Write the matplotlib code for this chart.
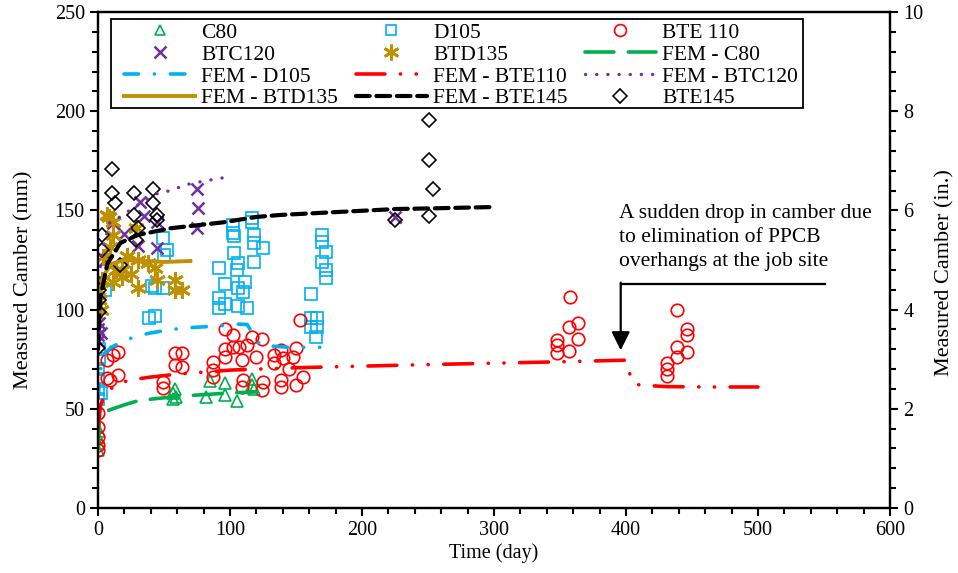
import matplotlib
matplotlib.use('Agg')
import matplotlib.pyplot as plt
from matplotlib.patches import Rectangle
from matplotlib.ticker import MultipleLocator

plt.rcParams['font.family'] = ['Liberation Serif', 'DejaVu Serif']
plt.rcParams['mathtext.fontset'] = 'stix'

# measured camber (mm) vs time (day)
c80_t = [0, 0, 0, 1, 57, 57, 58, 59, 82, 85, 96, 96, 105, 117, 117, 118]
c80_y = [29, 33, 36, 39, 58, 55, 60, 56, 56, 64, 63, 57, 54, 62, 65, 60]

d105_t = [0, 0, 0, 0, 1, 1, 2, 5, 39, 43, 43, 49, 50, 41, 52, 49,
          117, 117, 102, 102, 103, 118, 118, 125, 103, 118, 106, 92, 105, 96, 111,
          106, 110, 92, 96, 106, 113, 92,
          170, 170, 173, 170, 173, 173, 161, 161, 166, 161, 166, 165]
d105_y = [55, 60, 65, 70, 75, 80, 58, 110, 96, 97, 111, 111, 127.5, 112, 130, 136,
          146, 144, 142.6, 138.6, 137, 137.6, 133.6, 131, 128.5, 124, 123.5, 121, 120, 113, 114,
          111, 109, 106, 103, 102, 101, 100.7,
          137.6, 134, 129, 124, 120, 116, 108, 96, 96, 91, 91, 86]

bte110_t = [0, 0, 0, 0, 0, 7, 9, 15, 7, 11, 15,
            58, 64, 58, 64, 49, 49,
            87, 87, 87, 96, 102, 96, 96, 102, 107, 113, 117, 124, 120, 109, 110, 109,
            125, 124, 133, 133, 139, 140, 139, 139, 148, 153, 150, 145, 155, 150,
            357.6, 364, 357, 364, 348, 348, 348, 357,
            439, 446, 446, 439, 446, 439, 431, 431, 431]
bte110_y = [29, 32, 36, 41, 48, 65.5, 64.5, 67, 74.5, 77, 78.6,
            78, 78, 72, 71, 63.5, 60.5,
            73.6, 69.5, 66, 90, 87, 80, 76, 81, 81, 82, 86, 85, 76, 74.6, 64.5, 61,
            63.5, 59.5, 77, 73, 79.6, 75.6, 64.5, 61, 76, 95, 80.6, 70, 66, 62,
            106.5, 93, 91, 85, 84.7, 82, 78, 79,
            100, 90, 87, 81, 78.6, 76, 73, 70, 66.5]

btc120_t = [0, 0, 0, 1, 2, 5, 11, 20, 32, 35, 45, 45, 30, 75, 76, 75, 225]
btc120_y = [84, 87, 90, 93, 88, 125, 143.6, 138, 154, 147, 144, 131, 132, 161, 151, 141, 146.7]

btd135_t = [0, 0, 1, 2, 3, 8, 7, 11, 11, 9, 4, 29, 30, 38, 43, 18, 11, 30,
            58, 64, 58, 18, 22, 14, 25, 45]
btd135_y = [110, 113, 105, 100, 115, 146.7, 147.7, 144, 137.6, 131.5, 126.5, 141, 125, 123.5,
            121, 116.5, 114, 111, 115, 110, 110, 120, 127, 120, 118, 115]

bte145_t = [0, 1, 1, 1, 3, 3, 10.6, 10.6, 13, 27, 42, 42, 27, 45, 30, 45, 17, 29,
            225, 251, 251, 254, 251]
bte145_y = [80.6, 99, 105, 110, 130, 137.6, 171, 159, 153.6, 158.6, 161, 153.6, 147.7, 147.7,
            141, 145, 122.5, 135, 145, 195.6, 175.4, 161, 147]

# FEM predictions
fem_c80_t = [0, 1, 3, 9, 20, 30, 42, 64, 77, 100, 120]
fem_c80_y = [30, 45, 48, 49.5, 52, 54, 55, 56.5, 57, 58, 58.5]

fem_d105_t = [0, 2, 4, 10, 22, 38, 55, 72, 90, 106, 113, 118, 123, 145, 168]
fem_d105_y = [55, 70, 77, 81, 85, 88, 90, 91, 91.7, 92.7, 92.5, 87, 82, 81, 81]

fem_bte110_t = [0, 2, 5, 13, 24, 40, 60, 80, 100, 150, 200, 250, 300, 350, 399, 401, 404,
                410, 430, 460, 500]
fem_bte110_y = [40, 52, 57, 62, 64.5, 66, 67.5, 68.5, 69.5, 70.7, 71.5, 72.3, 73, 73.7, 74.5,
                73.5, 64, 62, 61.2, 61, 61]

fem_btc120_t = [0, 1, 3, 9, 15, 24, 33, 45, 55, 67, 82, 100]
fem_btc120_y = [88, 115, 130, 144, 146, 150, 154, 158.5, 160, 163, 165, 167]

fem_btd135_t = [0, 2, 5, 10, 20, 35, 50, 70]
fem_btd135_y = [95, 110, 118, 123, 125, 124.5, 124, 124.5]

fem_bte145_t = [0, 1.5, 7, 17, 30, 55, 95, 120, 138, 176, 226, 251, 300]
fem_bte145_y = [80, 105, 123, 133.6, 137.6, 141, 144, 146.7, 147.7, 149, 150.7, 151, 151.7]

green = '#00B050'
blue = '#00B0F0'
red = '#FF0000'
purple = '#7030A0'
gold = '#BF9000'

fig = plt.figure(figsize=(9.58, 5.73), dpi=100)
ax = fig.add_axes([0.1023, 0.1134, 0.8267, 0.8657])

ms = 8
h_c80, = ax.plot(c80_t, c80_y, ls='none', marker='^', ms=ms, mfc='none', mec=green, mew=1.2, label='C80')
h_d105, = ax.plot(d105_t, d105_y, ls='none', marker='s', ms=ms, mfc='none', mec=blue, mew=1.2, label='D105')
h_bte110, = ax.plot(bte110_t, bte110_y, ls='none', marker='o', ms=ms + 1, mfc='none', mec=red, mew=1.2, label='BTE 110')
h_btc120, = ax.plot(btc120_t, btc120_y, ls='none', marker='x', ms=ms + 1, mec=purple, mew=1.8, label='BTC120')
h_btd135, = ax.plot(btd135_t, btd135_y, ls='none', marker=(6, 2, 0), ms=ms + 4, mec=gold, mew=2.0, label='BTD135')
h_bte145, = ax.plot(bte145_t, bte145_y, ls='none', marker='D', ms=ms - 1, mfc='none', mec='k', mew=1.2, label='BTE145')

lw = 2.6
h_fc80, = ax.plot(fem_c80_t, fem_c80_y, color=green, lw=lw, dashes=(8, 4), dash_capstyle='round',
                  label='FEM - C80')
h_fd105, = ax.plot(fem_d105_t, fem_d105_y, color=blue, lw=lw, dashes=(4, 4.4, 0.05, 4.4),
                   dash_capstyle='round', label='FEM - D105')
h_fbte110, = ax.plot(fem_bte110_t, fem_bte110_y, color=red, lw=lw,
                     dashes=(8, 4.3, 0.05, 4.3, 0.05, 4.3), dash_capstyle='round', label='FEM - BTE110')
h_fbtc120, = ax.plot(fem_btc120_t, fem_btc120_y, color=purple, lw=2.4, dashes=(0.05, 3.3),
                     dash_capstyle='round', label='FEM - BTC120')
h_fbtd135, = ax.plot(fem_btd135_t, fem_btd135_y, color=gold, lw=2.8, label='FEM - BTD135')
h_fbte145, = ax.plot(fem_bte145_t, fem_bte145_y, color='k', lw=3, dashes=(3.3, 1.6),
                     dash_capstyle='round', label='FEM - BTE145')

ax.set_xlim(0, 600)
ax.set_ylim(0, 250)
ax.xaxis.set_major_locator(MultipleLocator(100))
ax.xaxis.set_minor_locator(MultipleLocator(20))
ax.yaxis.set_major_locator(MultipleLocator(50))
ax.yaxis.set_minor_locator(MultipleLocator(10))
ax.tick_params(which='both', direction='out', width=1.5, labelsize=14.5, top=False, right=False)
ax.tick_params(which='major', length=6)
ax.tick_params(which='minor', length=4)
for s in ax.spines.values():
    s.set_linewidth(1.6)
ax.set_xlabel('Time (day)', fontsize=14.5, labelpad=2)
ax.set_ylabel('Measured Camber (mm)', fontsize=16)
ax.yaxis.set_label_coords(-0.081, 0.46)

ax2 = ax.twinx()
ax2.set_ylim(0, 10)
ax2.yaxis.set_major_locator(MultipleLocator(2))
ax2.yaxis.set_minor_locator(MultipleLocator(0.4))
ax2.tick_params(which='both', direction='out', width=1.5, labelsize=14.5)
ax2.tick_params(which='major', length=6)
ax2.tick_params(which='minor', length=4)
ax2.set_ylabel('Measured Camber (in.)', fontsize=16)
ax2.yaxis.set_label_coords(1.057, 0.475)
for s in ax2.spines.values():
    s.set_linewidth(1.6)

# annotation for the drop at the job site
ax.text(395, 136.5, 'A sudden drop in camber due\nto elimination of PPCB\noverhangs at the job site',
        fontsize=15.5, ha='left', va='center', linespacing=1.35)
ax.plot([551, 396], [113, 113], color='k', lw=1.6)
ax.annotate('', xy=(396, 79.5), xytext=(396, 113.6),
            arrowprops=dict(arrowstyle='-|>', color='k', lw=1.6, mutation_scale=28,
                            shrinkA=0, shrinkB=0))

# legend filled column-wise so rows read like the reference
handles = [h_c80, h_btc120, h_fd105, h_fbtd135,
           h_d105, h_btd135, h_fbte110, h_fbte145,
           h_bte110, h_fc80, h_fbtc120, h_bte145]
leg = ax.legend(handles=handles, labels=[h.get_label() for h in handles], ncol=3,
                loc='upper left', bbox_to_anchor=(0.0328, 0.978), fontsize=15.5,
                frameon=False, handlelength=3.3, handletextpad=0.3, columnspacing=0.8,
                labelspacing=0.08, borderpad=0.0, borderaxespad=0, markerscale=0.95)
leg.set_zorder(5)
# legend frame drawn separately to match the reference box
ax.add_patch(Rectangle((0.0164, 0.806), 0.8736, 0.18, transform=ax.transAxes,
                       facecolor='white', edgecolor='k', lw=1.3, zorder=4))

fig.savefig('out.png', dpi=100)
